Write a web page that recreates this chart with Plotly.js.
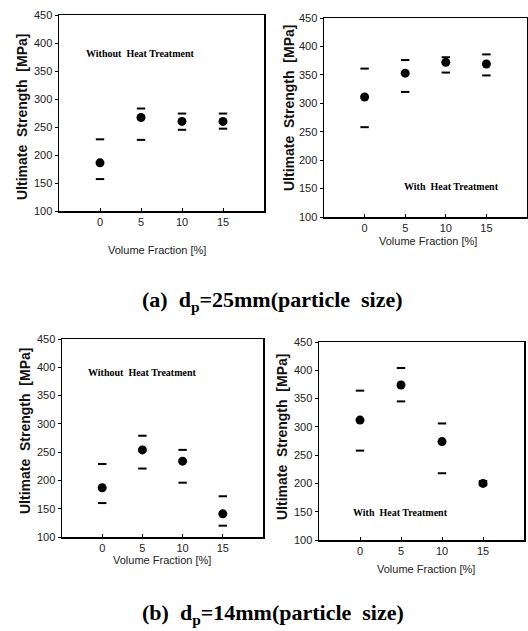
<!DOCTYPE html>
<html>
<head>
<meta charset="utf-8">
<script src="https://cdn.plot.ly/plotly-3.0.1.min.js"></script>
<style>html,body{margin:0;padding:0;background:#fff;}#chart{width:528px;height:631px;}</style>
</head>
<body>
<div id="chart"></div>
<script>
// ---- data ----
const volumeFraction = [0, 5, 10, 15];
const xTickLabels = ['0', '5', '10', '15'];
const yTickValues = [100, 150, 200, 250, 300, 350, 400, 450];

// (a) dp = 25 mm, without heat treatment
const a_without_mean  = [186, 267, 260, 260];
const a_without_upper = [228, 283, 274, 274];
const a_without_lower = [157, 227, 245, 247];
// (a) dp = 25 mm, with heat treatment
const a_with_mean  = [311, 353, 372, 369];
const a_with_upper = [361, 376, 381, 386];
const a_with_lower = [258, 320, 354, 349];
// (b) dp = 14 mm, without heat treatment
const b_without_mean  = [187, 254, 234, 141];
const b_without_upper = [229, 279, 254, 172];
const b_without_lower = [160, 221, 196, 120];
// (b) dp = 14 mm, with heat treatment
const b_with_mean  = [312, 374, 274, 200];
const b_with_upper = [364, 404, 306, 204];
const b_with_lower = [258, 345, 218, 197];

const panelLabels = ['Without  Heat Treatment', 'With  Heat Treatment', 'Without  Heat Treatment', 'With  Heat Treatment'];
const yTitle = 'Ultimate  Strength  [MPa]';
const xTitle = 'Volume Fraction [%]';
const captionA = '(a)  d<sub>p</sub>=25mm(particle  size)';
const captionB = '(b)  d<sub>p</sub>=14mm(particle  size)';

// ---- build ----
const panels = [
  {mean: a_without_mean, up: a_without_upper, lo: a_without_lower, xa: 'x',  ya: 'y'},
  {mean: a_with_mean,    up: a_with_upper,    lo: a_with_lower,    xa: 'x2', ya: 'y2'},
  {mean: b_without_mean, up: b_without_upper, lo: b_without_lower, xa: 'x3', ya: 'y3'},
  {mean: b_with_mean,    up: b_with_upper,    lo: b_with_lower,    xa: 'x4', ya: 'y4'}
];

const traces = [];
panels.forEach(p => {
  traces.push({x: volumeFraction.concat(volumeFraction), y: p.up.concat(p.lo), xaxis: p.xa, yaxis: p.ya,
    type: 'scatter', mode: 'markers',
    marker: {symbol: 'line-ew', size: 6, color: '#000', line: {width: 2, color: '#000'}},
    showlegend: false, hoverinfo: 'x+y'});
  traces.push({x: volumeFraction, y: p.mean, xaxis: p.xa, yaxis: p.ya, type: 'scatter', mode: 'markers',
    marker: {symbol: 'circle', size: 9, color: '#000'}, showlegend: false, hoverinfo: 'x+y'});
});

const W = 528, H = 631;
// pixel boxes [left, right, top, bottom]
const boxes = [
  [59, 264, 15, 211],
  [324, 527, 18, 217],
  [62, 263, 339, 537],
  [319, 524, 342, 540]
];

const tickFont = {family: 'Arial, sans-serif', size: 11, color: '#222'};
const layout = {
  width: W, height: H,
  margin: {l: 0, r: 0, t: 0, b: 0},
  paper_bgcolor: '#fff', plot_bgcolor: '#fff',
  showlegend: false,
  annotations: [],
  font: {family: 'Arial, sans-serif', color: '#000'}
};

boxes.forEach((b, i) => {
  const n = i === 0 ? '' : String(i + 1);
  const xd = [b[0] / W, b[1] / W];
  const yd = [1 - b[3] / H, 1 - b[2] / H];
  layout['xaxis' + n] = {
    domain: xd, range: [-5, 20], anchor: 'y' + n,
    tickvals: volumeFraction, ticktext: xTickLabels,
    ticks: 'inside', ticklen: 3, tickcolor: '#000',
    showline: true, linecolor: '#000', linewidth: 1.5, mirror: true,
    showgrid: false, zeroline: false, tickfont: tickFont, fixedrange: true
  };
  layout['yaxis' + n] = {
    domain: yd, range: [100, 450], anchor: 'x' + n,
    tickvals: yTickValues,
    ticks: 'outside', ticklen: 3, tickcolor: '#000',
    showline: true, linecolor: '#000', linewidth: 1.5, mirror: true,
    showgrid: false, zeroline: false, tickfont: tickFont, fixedrange: true
  };
});

// axis titles as annotations (paper coords)
const yTitlePos = [[22, 117], [289, 108], [25, 431], [282, 437]];
const xTitlePos = [[157, 250], [428, 241], [162, 560], [426, 569]];
yTitlePos.forEach(p => layout.annotations.push({
  text: yTitle, xref: 'paper', yref: 'paper', x: p[0] / W, y: 1 - p[1] / H,
  textangle: -90, showarrow: false, xanchor: 'center', yanchor: 'middle',
  font: {family: 'Arial, sans-serif', size: 14, color: '#111', weight: 'bold'}
}));
xTitlePos.forEach(p => layout.annotations.push({
  text: xTitle, xref: 'paper', yref: 'paper', x: p[0] / W, y: 1 - p[1] / H,
  showarrow: false, xanchor: 'center', yanchor: 'middle',
  font: {family: 'Arial, sans-serif', size: 11, color: '#222'}
}));

// in-panel labels (data coords)
const labelPos = [[4.9, 382], [10.7, 153], [5.0, 390], [4.9, 149]];
labelPos.forEach((p, i) => {
  const n = i === 0 ? '' : String(i + 1);
  layout.annotations.push({
    text: panelLabels[i], xref: 'x' + n, yref: 'y' + n, x: p[0], y: p[1],
    showarrow: false, xanchor: 'center', yanchor: 'middle',
    font: {family: 'Liberation Serif, Times New Roman, serif', size: 10, color: '#000', weight: 'bold'}
  });
});

// captions
layout.annotations.push({
  text: captionA, xref: 'paper', yref: 'paper', x: 272 / W, y: 1 - 301 / H,
  showarrow: false, xanchor: 'center', yanchor: 'middle',
  font: {family: 'Liberation Serif, Times New Roman, serif', size: 22, color: '#000', weight: 'bold'}
});
layout.annotations.push({
  text: captionB, xref: 'paper', yref: 'paper', x: 273 / W, y: 1 - 614 / H,
  showarrow: false, xanchor: 'center', yanchor: 'middle',
  font: {family: 'Liberation Serif, Times New Roman, serif', size: 22, color: '#000', weight: 'bold'}
});

Plotly.newPlot('chart', traces, layout, {staticPlot: true, displayModeBar: false});
</script>
</body>
</html>
